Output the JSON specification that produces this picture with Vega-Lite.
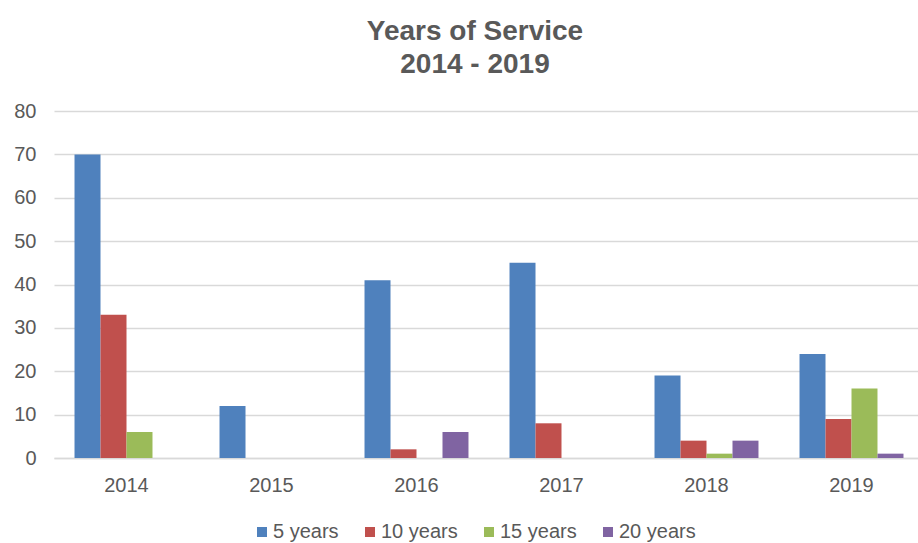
{
  "$schema": "https://vega.github.io/schema/vega-lite/v6.json",
  "autosize": "none",
  "width": 870,
  "height": 347,
  "padding": {"left": 54, "top": 111, "right": 0, "bottom": 85},
  "background": "white",
  "title": {
    "text": ["Years of Service", "2014 - 2019"],
    "font": "Liberation Sans",
    "fontSize": 28,
    "fontWeight": "bold",
    "color": "#595959",
    "anchor": "middle",
    "frame": "group",
    "dx": -14,
    "offset": 22,
    "lineHeight": 33
  },
  "data": {
    "values": [
      {"year": "2014", "series": "5 years", "value": 70},
      {"year": "2014", "series": "10 years", "value": 33},
      {"year": "2014", "series": "15 years", "value": 6},
      {"year": "2014", "series": "20 years", "value": 0},
      {"year": "2015", "series": "5 years", "value": 12},
      {"year": "2015", "series": "10 years", "value": 0},
      {"year": "2015", "series": "15 years", "value": 0},
      {"year": "2015", "series": "20 years", "value": 0},
      {"year": "2016", "series": "5 years", "value": 41},
      {"year": "2016", "series": "10 years", "value": 2},
      {"year": "2016", "series": "15 years", "value": 0},
      {"year": "2016", "series": "20 years", "value": 6},
      {"year": "2017", "series": "5 years", "value": 45},
      {"year": "2017", "series": "10 years", "value": 8},
      {"year": "2017", "series": "15 years", "value": 0},
      {"year": "2017", "series": "20 years", "value": 0},
      {"year": "2018", "series": "5 years", "value": 19},
      {"year": "2018", "series": "10 years", "value": 4},
      {"year": "2018", "series": "15 years", "value": 1},
      {"year": "2018", "series": "20 years", "value": 4},
      {"year": "2019", "series": "5 years", "value": 24},
      {"year": "2019", "series": "10 years", "value": 9},
      {"year": "2019", "series": "15 years", "value": 16},
      {"year": "2019", "series": "20 years", "value": 1}
    ]
  },
  "mark": {"type": "bar"},
  "encoding": {
    "x": {
      "field": "year",
      "type": "nominal",
      "scale": {"paddingInner": 0.283, "paddingOuter": 0.1415},
      "axis": {
        "title": null,
        "labelAngle": 0,
        "labelFont": "Liberation Sans",
        "labelFontSize": 20,
        "labelColor": "#595959",
        "labelPadding": 17,
        "ticks": false,
        "domainColor": "#d9d9d9",
        "domainWidth": 1.5
      }
    },
    "xOffset": {
      "field": "series",
      "type": "nominal",
      "sort": ["5 years", "10 years", "15 years", "20 years"],
      "scale": {"paddingInner": 0, "paddingOuter": 0}
    },
    "y": {
      "field": "value",
      "type": "quantitative",
      "scale": {"domain": [0, 80], "nice": false},
      "axis": {
        "title": null,
        "values": [0, 10, 20, 30, 40, 50, 60, 70, 80],
        "labelFont": "Liberation Sans",
        "labelFontSize": 20,
        "labelColor": "#595959",
        "labelPadding": 18,
        "ticks": false,
        "domain": false,
        "gridColor": "#d9d9d9",
        "gridWidth": 1.5
      }
    },
    "color": {
      "field": "series",
      "type": "nominal",
      "sort": ["5 years", "10 years", "15 years", "20 years"],
      "scale": {
        "domain": ["5 years", "10 years", "15 years", "20 years"],
        "range": ["#4f81bd", "#c0504d", "#9bbb59", "#8064a2"]
      },
      "legend": {
        "title": null,
        "orient": "none",
        "direction": "horizontal",
        "legendX": 198,
        "legendY": 411,
        "symbolType": "square",
        "symbolSize": 100,
        "symbolStrokeWidth": 0,
        "labelFont": "Liberation Sans",
        "labelFontSize": 20,
        "labelColor": "#595959",
        "labelOffset": 1,
        "columnPadding": 21
      }
    }
  },
  "config": {
    "view": {"stroke": null}
  }
}
